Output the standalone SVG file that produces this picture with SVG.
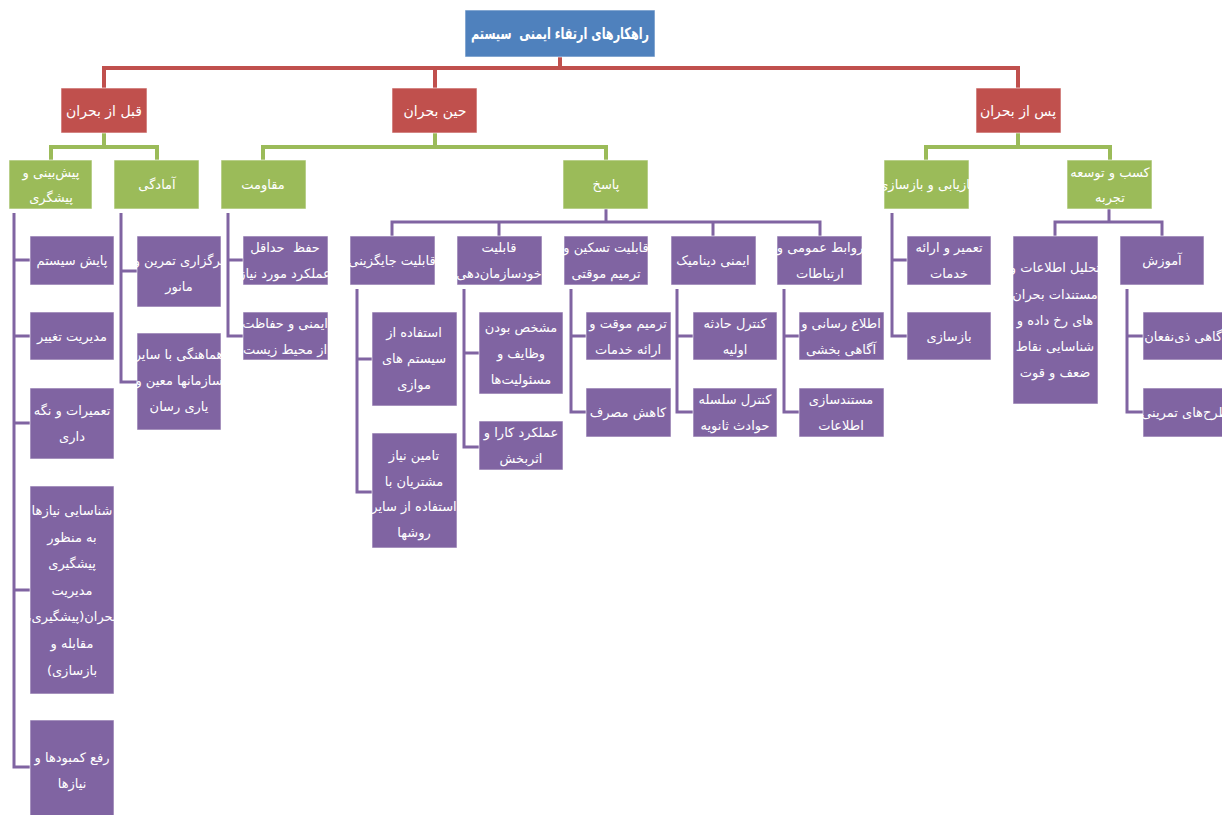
<svg xmlns="http://www.w3.org/2000/svg" width="1222" height="815" viewBox="0 0 1222 815">
<style>
.bb{fill:#4F81BD;stroke:#ffffff;stroke-opacity:0.6;stroke-width:1}
.br{fill:#C0504D;stroke:#ffffff;stroke-opacity:0.6;stroke-width:1}
.bg{fill:#9BBB59;stroke:#ffffff;stroke-opacity:0.6;stroke-width:1}
.bp{fill:#8064A2;stroke:#ffffff;stroke-opacity:0.6;stroke-width:1}
.cr{stroke:#C0504D;stroke-width:4;fill:none}
.cg{stroke:#9BBB59;stroke-width:4;fill:none}
.cp{stroke:#8064A2;stroke-width:3;fill:none}
text{font-family:"DejaVu Sans","Noto Sans",sans-serif;font-size:13px;fill:#ffffff;text-anchor:middle;direction:rtl}
.root{font-size:16px;font-weight:bold}
.lv1{font-size:14px}
</style>
<rect width="1222" height="815" fill="#ffffff"/>
<g id="connectors">
<path class="cr" d="M560,57 V68 M104,88 V68 H1018 V88 M435,68 V88"/>
<path class="cg" d="M104,133 V147 M51,160 V147 H157 V160 M435,133 V147 M263,160 V147 H606 V160 M1018,133 V147 M926,160 V147 H1110 V160"/>
<path class="cp" d="M14,213 V767 H30 M14,260 H30 M14,336 H30 M14,423 H30 M14,590 H30"/>
<path class="cp" d="M121,213 V382 H137 M121,271 H137"/>
<path class="cp" d="M228,213 V336 H243 M228,260 H243"/>
<path class="cp" d="M606,209 V222 M392,236 V222 H820 V236 M499,222 V236 M713,222 V236"/>
<path class="cp" d="M357,289 V492 H372 M357,359 H372"/>
<path class="cp" d="M464,289 V447 H479 M464,353 H479"/>
<path class="cp" d="M571,289 V412 H586 M571,336 H586"/>
<path class="cp" d="M677,289 V412 H693 M677,336 H693"/>
<path class="cp" d="M784,289 V412 H799 M784,336 H799"/>
<path class="cp" d="M892,213 V336 H907 M892,260 H907"/>
<path class="cp" d="M1109,209 V222 M1055,236 V222 H1162 V236"/>
<path class="cp" d="M1127,289 V412 H1143 M1127,336 H1143"/>
</g>
<g id="root"><rect class="bb" x="465" y="10" width="190" height="47"/><text class="root" x="560" y="39" textLength="178" lengthAdjust="spacingAndGlyphs" xml:space="preserve">راهکارهای ارتقاء ایمنی  سیستم</text></g>
<g id="before"><rect class="br" x="61" y="88" width="86" height="45"/><text class="lv1" x="104" y="116">قبل از بحران</text></g>
<g id="during"><rect class="br" x="392" y="88" width="85" height="45"/><text class="lv1" x="435" y="116">حین بحران</text></g>
<g id="after"><rect class="br" x="976" y="88" width="85" height="45"/><text class="lv1" x="1018" y="116">پس از بحران</text></g>
<g id="prediction"><rect class="bg" x="9" y="160" width="83" height="49"/><text x="51" y="177">پیش‌بینی و</text><text x="51" y="202">پیشگری</text></g>
<g id="preparedness"><rect class="bg" x="114" y="160" width="85" height="49"/><text x="157" y="189">آمادگی</text></g>
<g id="resistance"><rect class="bg" x="221" y="160" width="85" height="49"/><text x="263" y="189">مقاومت</text></g>
<g id="response"><rect class="bg" x="563" y="160" width="85" height="49"/><text x="606" y="189">پاسخ</text></g>
<g id="recovery"><rect class="bg" x="884" y="160" width="85" height="49"/><text x="926" y="189">بازیابی و بازسازی</text></g>
<g id="experience"><rect class="bg" x="1067" y="160" width="85" height="49"/><text x="1110" y="177">کسب و توسعه</text><text x="1110" y="202">تجربه</text></g>
<g id="monitoring"><rect class="bp" x="30" y="236" width="84" height="49"/><text x="72" y="265">پایش سیستم</text></g>
<g id="change"><rect class="bp" x="30" y="312" width="84" height="48"/><text x="72" y="341">مدیریت تغییر</text></g>
<g id="maintenance"><rect class="bp" x="30" y="388" width="84" height="71"/><text x="72" y="415">تعمیرات و نگه</text><text x="72" y="441">داری</text></g>
<g id="needs"><rect class="bp" x="30" y="486" width="84" height="208"/><text x="72" y="515">شناسایی نیازها</text><text x="72" y="542">به منظور</text><text x="72" y="568">پیشگیری</text><text x="72" y="595">مدیریت</text><text x="72" y="621">بحران(پیشگیری،</text><text x="72" y="648">مقابله و</text><text x="72" y="675">بازسازی)</text></g>
<g id="shortage"><rect class="bp" x="30" y="720" width="84" height="100"/><text x="72" y="762">رفع کمبودها و</text><text x="72" y="788">نیازها</text></g>
<g id="drill"><rect class="bp" x="137" y="236" width="84" height="71"/><text x="179" y="265">برگزاری تمرین و</text><text x="179" y="291">مانور</text></g>
<g id="coordination"><rect class="bp" x="137" y="333" width="84" height="97"/><text x="179" y="359">هماهنگی با سایر</text><text x="179" y="385">سازمانها معین و</text><text x="179" y="411">یاری رسان</text></g>
<g id="minfunction"><rect class="bp" x="243" y="236" width="85" height="49"/><text x="285" y="252" xml:space="preserve">حفظ  حداقل</text><text x="285" y="278">عملکرد مورد نیاز</text></g>
<g id="environment"><rect class="bp" x="243" y="312" width="85" height="48"/><text x="285" y="328">ایمنی و حفاظت</text><text x="285" y="354">از محیط زیست</text></g>
<g id="substitution"><rect class="bp" x="350" y="236" width="85" height="49"/><text x="392" y="265">قابلیت جایگزینی</text></g>
<g id="selforg"><rect class="bp" x="457" y="236" width="85" height="49"/><text x="499" y="252">قابلیت</text><text x="499" y="278">خودسازمان‌دهی</text></g>
<g id="mitigation"><rect class="bp" x="564" y="236" width="84" height="49"/><text x="606" y="252">قابلیت تسکین و</text><text x="606" y="278">ترمیم موقتی</text></g>
<g id="dynamic"><rect class="bp" x="671" y="236" width="85" height="49"/><text x="713" y="265">ایمنی دینامیک</text></g>
<g id="pr"><rect class="bp" x="777" y="236" width="85" height="49"/><text x="820" y="252">روابط عمومی و</text><text x="820" y="278">ارتباطات</text></g>
<g id="parallel"><rect class="bp" x="372" y="312" width="85" height="94"/><text x="414" y="337">استفاده از</text><text x="414" y="363">سیستم های</text><text x="414" y="389">موازی</text></g>
<g id="othermethods"><rect class="bp" x="372" y="433" width="85" height="115"/><text x="414" y="460">تامین نیاز</text><text x="414" y="486">مشتریان با</text><text x="414" y="511">استفاده از سایر</text><text x="414" y="537">روشها</text></g>
<g id="duties"><rect class="bp" x="479" y="312" width="84" height="82"/><text x="521" y="332">مشخص بودن</text><text x="521" y="358">وظایف و</text><text x="521" y="384">مسئولیت‌ها</text></g>
<g id="efficient"><rect class="bp" x="479" y="421" width="84" height="49"/><text x="521" y="437">عملکرد کارا و</text><text x="521" y="463">اثربخش</text></g>
<g id="temprepair"><rect class="bp" x="586" y="312" width="85" height="48"/><text x="628" y="328">ترمیم موقت و</text><text x="628" y="354">ارائه خدمات</text></g>
<g id="consumption"><rect class="bp" x="586" y="388" width="85" height="49"/><text x="628" y="417">کاهش مصرف</text></g>
<g id="primary"><rect class="bp" x="693" y="312" width="84" height="48"/><text x="735" y="328">کنترل حادثه</text><text x="735" y="354">اولیه</text></g>
<g id="secondary"><rect class="bp" x="693" y="388" width="84" height="49"/><text x="735" y="404">کنترل سلسله</text><text x="735" y="430">حوادث ثانویه</text></g>
<g id="inform"><rect class="bp" x="799" y="312" width="85" height="48"/><text x="841" y="328">اطلاع رسانی و</text><text x="841" y="354">آگاهی بخشی</text></g>
<g id="documentation"><rect class="bp" x="799" y="388" width="85" height="49"/><text x="841" y="404">مستندسازی</text><text x="841" y="430">اطلاعات</text></g>
<g id="repair"><rect class="bp" x="907" y="236" width="84" height="49"/><text x="949" y="252">تعمیر و ارائه</text><text x="949" y="278">خدمات</text></g>
<g id="reconstruction"><rect class="bp" x="907" y="312" width="84" height="48"/><text x="949" y="341">بازسازی</text></g>
<g id="analysis"><rect class="bp" x="1013" y="236" width="85" height="168"/><text x="1055" y="272">تحلیل اطلاعات و</text><text x="1055" y="299">مستندات بحران</text><text x="1055" y="325">های رخ داده و</text><text x="1055" y="351">شناسایی نقاط</text><text x="1055" y="377">ضعف و قوت</text></g>
<g id="training"><rect class="bp" x="1120" y="236" width="84" height="49"/><text x="1162" y="265">آموزش</text></g>
<g id="awareness"><rect class="bp" x="1143" y="312" width="85" height="48"/><text x="1185" y="341">آگاهی ذی‌نفعان</text></g>
<g id="exercises"><rect class="bp" x="1143" y="388" width="85" height="49"/><text x="1185" y="417">طرح‌های تمرینی</text></g>
</svg>
